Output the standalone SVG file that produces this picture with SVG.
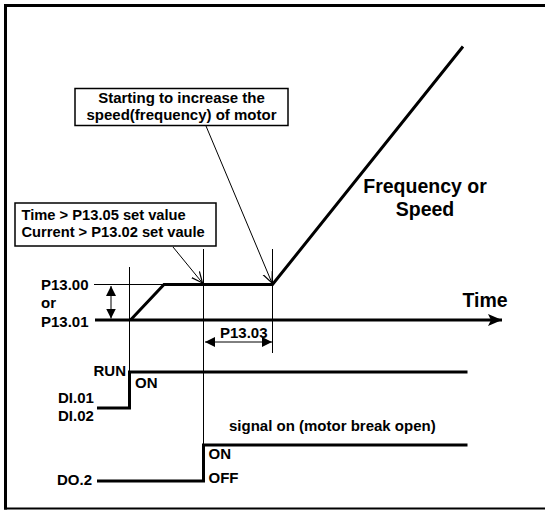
<svg xmlns="http://www.w3.org/2000/svg" width="545" height="511" viewBox="0 0 545 511">
  <style>
    text { font-family: "Liberation Sans", Arial, sans-serif; font-weight: bold; fill: #000; }
    .t15 { font-size: 15px; }
    .t14 { font-size: 14.7px; }
    .big { font-size: 19.5px; }
    .thick { stroke: #000; stroke-width: 3; fill: none; }
    .thin { stroke: #000; stroke-width: 1; fill: none; }
    .box { stroke: #000; stroke-width: 1.5; fill: #fff; }
  </style>
  <defs>
    <marker id="fill" viewBox="0 0 10 10" refX="10" refY="5" markerWidth="10" markerHeight="10" markerUnits="userSpaceOnUse" orient="auto-start-reverse">
      <path d="M0,0 L10,5 L0,10 z" fill="#000"/>
    </marker>
    <marker id="big" viewBox="0 0 14 12" refX="14" refY="6" markerWidth="14" markerHeight="12" markerUnits="userSpaceOnUse" orient="auto">
      <path d="M0,0 L14,6 L0,12 L3,6 z" fill="#000"/>
    </marker>
    <marker id="open" viewBox="0 0 12 12" refX="11" refY="6" markerWidth="12" markerHeight="12" markerUnits="userSpaceOnUse" orient="auto">
      <path d="M0,1 L11,6 L0,11" fill="none" stroke="#000" stroke-width="1.2"/>
    </marker>
  </defs>
  <rect width="545" height="511" fill="#fff"/>
  <g id="frame">
    <line x1="5.5" y1="4" x2="5.5" y2="509.5" stroke="#000" stroke-width="3"/>
    <line x1="4" y1="5.5" x2="545" y2="5.5" stroke="#000" stroke-width="3"/>
    <line x1="4" y1="508.5" x2="545" y2="508.5" stroke="#000" stroke-width="2"/>
  </g>

  <g id="connectors">
    <line class="thin" x1="94" y1="284.5" x2="164" y2="284.5"/>
    <line class="thin" x1="129.5" y1="267" x2="129.5" y2="372"/>
    <line class="thin" x1="203.5" y1="249" x2="203.5" y2="445"/>
    <line class="thin" x1="272.5" y1="249" x2="272.5" y2="353"/>
    <line class="thick" x1="95" y1="320" x2="502" y2="320" marker-end="url(#big)"/>
    <polyline class="thick" points="130.5,320 164,284.5 272.5,284.5 463,46.5"/>
    <line class="thin" x1="111" y1="286" x2="111" y2="318.5" stroke-width="1.5" marker-start="url(#fill)" marker-end="url(#fill)"/>
    <line class="thin" x1="205" y1="342" x2="272" y2="342" stroke-width="1.5" marker-start="url(#fill)" marker-end="url(#fill)"/>
    <line class="thin" x1="173" y1="247" x2="202.5" y2="283" marker-end="url(#open)"/>
    <line class="thin" x1="206" y1="126" x2="272" y2="283" marker-end="url(#open)"/>
    <polyline class="thick" points="97,408 129.5,408 129.5,372 467.5,372"/>
    <polyline class="thick" points="97,481 203.5,481 203.5,445 467.5,445"/>
  </g>

  <g id="box-start">
    <rect class="box" x="75" y="88.5" width="213" height="37"/>
    <text class="t15" x="181.5" y="102.5" text-anchor="middle">Starting to increase the</text>
    <text class="t15" x="181.5" y="119.5" text-anchor="middle">speed(frequency) of motor</text>
  </g>

  <g id="box-condition">
    <rect class="box" x="15" y="203" width="201" height="43"/>
    <text class="t14" x="21.5" y="219.5">Time &gt; P13.05 set value</text>
    <text class="t14" x="21.5" y="237">Current &gt; P13.02 set vaule</text>
  </g>

  <g id="label-freq">
    <text class="big" x="425" y="193" text-anchor="middle">Frequency or</text>
    <text class="big" x="425" y="216" text-anchor="middle">Speed</text>
  </g>

  <g id="label-time">
    <text class="big" x="485" y="307" text-anchor="middle">Time</text>
  </g>

  <g id="label-levels">
    <text class="t15" x="41" y="290">P13.00</text>
    <text class="t15" x="41" y="308">or</text>
    <text class="t15" x="41" y="326.5">P13.01</text>
  </g>

  <g id="label-p1303">
    <text class="t15" x="220" y="337.5">P13.03</text>
  </g>

  <g id="label-run">
    <text class="t15" x="126" y="375.5" text-anchor="end">RUN</text>
    <text class="t15" x="135" y="387.5">ON</text>
    <text class="t15" x="58" y="403">DI.01</text>
    <text class="t15" x="58" y="421">DI.02</text>
  </g>

  <g id="label-do">
    <text class="t15" x="229" y="431">signal on (motor break open)</text>
    <text class="t15" x="208.5" y="459">ON</text>
    <text class="t15" x="208.5" y="483">OFF</text>
    <text class="t15" x="92" y="485" text-anchor="end">DO.2</text>
  </g>
</svg>
